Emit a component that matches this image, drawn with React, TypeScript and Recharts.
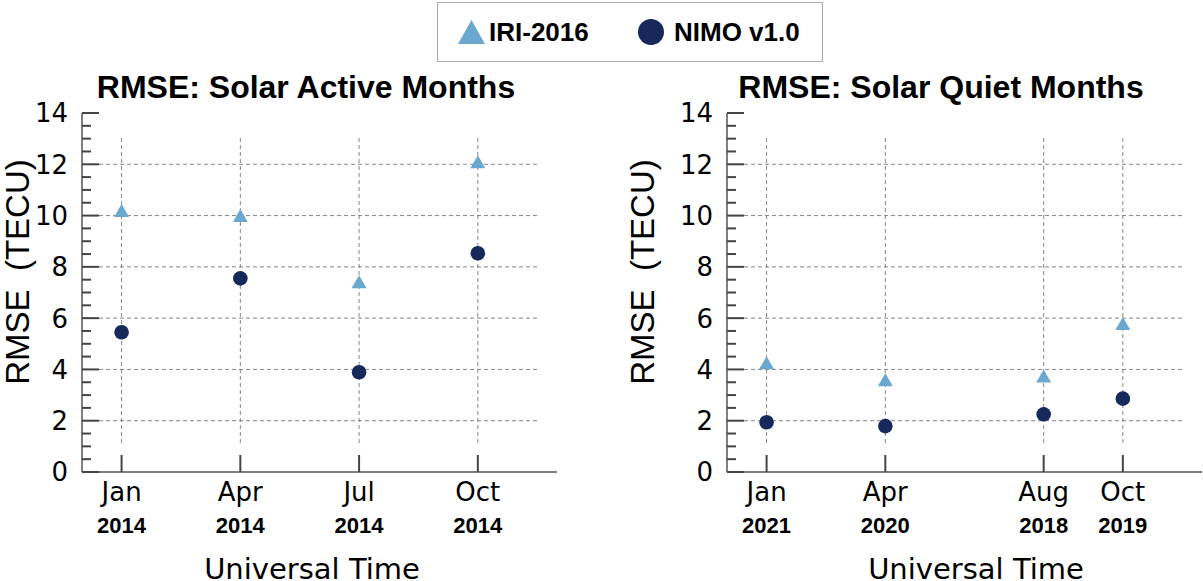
import React from "react";
import { ScatterChart, Scatter, XAxis, YAxis, ReferenceLine, Legend } from "recharts";

// Solar active months (all 2014)
const activeMonths = ["Jan", "Apr", "Jul", "Oct"];
const activeYears = ["2014", "2014", "2014", "2014"];
const activeMonthNum = [1, 4, 7, 10];
const activeIri = [10.2, 10.0, 7.42, 12.1];
const activeNimo = [5.45, 7.55, 3.89, 8.53];

// Solar quiet months
const quietMonths = ["Jan", "Apr", "Aug", "Oct"];
const quietYears = ["2021", "2020", "2018", "2019"];
const quietMonthNum = [1, 4, 8, 10];
const quietIri = [4.26, 3.6, 3.74, 5.79];
const quietNimo = [1.94, 1.79, 2.25, 2.86];

const yTicks = [
  0, 0.5, 1, 1.5, 2, 2.5, 3, 3.5, 4, 4.5, 5, 5.5, 6, 6.5, 7, 7.5, 8, 8.5, 9, 9.5,
  10, 10.5, 11, 11.5, 12, 12.5, 13, 13.5, 14,
];
const yGrid = [2, 4, 6, 8, 10, 12];

const IRI_COLOR = "#6aa8d0";
const NIMO_COLOR = "#16295a";
const FRAME = "#555";
const TICK = "#444";
const GRID = "#858585";
const SANS = '"DejaVu Sans", sans-serif';
const ARIAL = '"Liberation Sans", Arial, sans-serif';

const W = 600;
const H = 581;

function Triangle(props: any) {
  const { cx, cy } = props;
  if (cx == null || cy == null) return null;
  const w = 15;
  const h = 13;
  return (
    <path
      d={`M${cx},${cy - h / 2}L${cx + w / 2},${cy + h / 2}L${cx - w / 2},${cy + h / 2}Z`}
      fill={IRI_COLOR}
    />
  );
}

function Dot(props: any) {
  const { cx, cy } = props;
  if (cx == null || cy == null) return null;
  return <circle cx={cx} cy={cy} r={7.3} fill={NIMO_COLOR} />;
}

function LegendBox({ payload }: any) {
  const items = payload || [];
  return (
    <svg width={383} height={57} style={{ display: "block" }}>
      {items.map((entry: any, i: number) => {
        const bx = i === 0 ? 20 : 213;
        return (
          <g key={entry.value}>
            {i === 0 ? (
              <path d={`M${bx + 13.5},17L${bx + 27},41L${bx},41Z`} fill={IRI_COLOR} />
            ) : (
              <circle cx={bx} cy={29} r={13} fill={NIMO_COLOR} />
            )}
            <text
              x={i === 0 ? bx + 31 : bx + 23}
              y={38}
              fontFamily={ARIAL}
              fontWeight="bold"
              fontSize={26}
              fill="#000"
            >
              {entry.value}
            </text>
          </g>
        );
      })}
    </svg>
  );
}

interface PanelProps {
  left: number;
  plotLeft: number;
  plotRight: number;
  months: string[];
  monthNum: number[];
  years: string[];
  iri: number[];
  nimo: number[];
  yLabelX: number;
  xLabelCenter: number;
  legend?: boolean;
}

function Panel({
  left,
  plotLeft,
  plotRight,
  months,
  monthNum,
  years,
  iri,
  nimo,
  yLabelX,
  xLabelCenter,
  legend,
}: PanelProps) {
  const iriData = monthNum.map((m, i) => ({ x: m, y: iri[i] }));
  const nimoData = monthNum.map((m, i) => ({ x: m, y: nimo[i] }));

  const leftTick = ({ x, y, payload }: any) => {
    const major = payload.value % 2 === 0;
    return (
      <g>
        <line x1={x} x2={x + (major ? 17 : 9)} y1={y} y2={y} stroke={TICK} strokeWidth={2} />
        {major && (
          <text x={x - 14} y={y} dy="0.36em" textAnchor="end" fontFamily={SANS} fontSize={26} fill="#000">
            {payload.value}
          </text>
        )}
      </g>
    );
  };

  const rightTick = ({ x, y, payload }: any) => {
    const major = payload.value % 2 === 0;
    return <line x1={x} x2={x - (major ? 17 : 9)} y1={y} y2={y} stroke={TICK} strokeWidth={2} />;
  };

  const bottomTick = ({ x, y, payload }: any) => {
    const idx = monthNum.indexOf(payload.value);
    return (
      <g>
        <line x1={x} x2={x} y1={y} y2={y - 17} stroke={TICK} strokeWidth={2} />
        <text x={x} y={y + 29} textAnchor="middle" fontFamily={SANS} fontSize={26} fill="#000">
          {months[idx]}
        </text>
        <text x={x} y={y + 61} textAnchor="middle" fontFamily={ARIAL} fontWeight="bold" fontSize={22} fill="#000">
          {years[idx]}
        </text>
      </g>
    );
  };

  const topTick = ({ x, y }: any) => (
    <line x1={x} x2={x} y1={y} y2={y + 17} stroke={TICK} strokeWidth={2} />
  );

  const frame = { stroke: FRAME, strokeWidth: 1.5 };

  return (
    <div style={{ position: "absolute", left, top: 0, width: W, height: H }}>
      <ScatterChart width={W} height={H} margin={{ top: 113, right: W - plotRight, bottom: 0, left: 0 }}>
        <XAxis
          xAxisId="bottom"
          type="number"
          dataKey="x"
          domain={[0, 12]}
          ticks={monthNum}
          interval={0}
          height={H - 472}
          axisLine={frame}
          tickLine={false}
          tickSize={0}
          tickMargin={0}
          tick={bottomTick}
          label={{
            value: "Universal Time",
            content: () => (
              <text x={xLabelCenter} y={579} textAnchor="middle" fontFamily={SANS} fontSize={29} fill="#000">
                Universal Time
              </text>
            ),
          }}
        />
        <XAxis
          xAxisId="top"
          orientation="top"
          type="number"
          dataKey="x"
          domain={[0, 12]}
          ticks={monthNum}
          interval={0}
          height={0}
          axisLine={frame}
          tickLine={false}
          tickSize={0}
          tickMargin={0}
          tick={topTick}
        />
        <YAxis
          yAxisId="left"
          type="number"
          dataKey="y"
          domain={[0, 14]}
          ticks={yTicks}
          interval={0}
          width={plotLeft}
          axisLine={frame}
          tickLine={false}
          tickSize={0}
          tickMargin={0}
          tick={leftTick}
          label={{
            value: "RMSE  (TECU)",
            content: () => (
              <text
                x={yLabelX}
                y={272}
                transform={`rotate(-90 ${yLabelX} 272)`}
                textAnchor="middle"
                fontFamily={ARIAL}
                fontSize={33}
                fill="#000"
                style={{ whiteSpace: "pre" }}
              >
                RMSE  (TECU)
              </text>
            ),
          }}
        />
        <YAxis
          yAxisId="right"
          orientation="right"
          type="number"
          dataKey="y"
          domain={[0, 14]}
          ticks={yTicks}
          interval={0}
          width={0}
          axisLine={frame}
          tickLine={false}
          tickSize={0}
          tickMargin={0}
          tick={rightTick}
        />
        {yGrid.map((v) => (
          <ReferenceLine
            key={`h${v}`}
            xAxisId="bottom"
            yAxisId="left"
            segment={[
              { x: 0.43, y: v },
              { x: 11.57, y: v },
            ]}
            stroke={GRID}
            strokeDasharray="4 3"
            strokeWidth={1}
          />
        ))}
        {monthNum.map((m) => (
          <ReferenceLine
            key={`v${m}`}
            xAxisId="bottom"
            yAxisId="left"
            segment={[
              { x: m, y: 1.13 },
              { x: m, y: 13.07 },
            ]}
            stroke={GRID}
            strokeDasharray="4 3"
            strokeWidth={1}
          />
        ))}
        <Scatter
          name="IRI-2016"
          xAxisId="bottom"
          yAxisId="left"
          data={iriData}
          fill={IRI_COLOR}
          legendType="triangle"
          shape={Triangle}
          isAnimationActive={false}
        />
        <Scatter
          name="NIMO v1.0"
          xAxisId="top"
          yAxisId="right"
          data={nimoData}
          fill={NIMO_COLOR}
          legendType="circle"
          shape={Dot}
          isAnimationActive={false}
        />
        {legend && (
          <Legend
            layout="horizontal"
            verticalAlign="middle"
            align="center"
            content={<LegendBox />}
            wrapperStyle={{
              position: "absolute",
              left: 437,
              top: 2,
              width: 386,
              height: 60,
              border: "1.5px solid #aaa",
              boxSizing: "border-box",
              background: "#fff",
            }}
          />
        )}
      </ScatterChart>
    </div>
  );
}

const titleStyle: React.CSSProperties = {
  position: "absolute",
  top: 71,
  width: 600,
  textAlign: "center",
  fontFamily: ARIAL,
  fontWeight: "bold",
  fontSize: 32,
  lineHeight: "32px",
  color: "#000",
  whiteSpace: "nowrap",
};

export default function App() {
  return (
    <div
      style={{
        position: "absolute",
        left: 0,
        top: 0,
        width: 1203,
        height: 581,
        background: "#fff",
        overflow: "hidden",
      }}
    >
      <Panel
        left={603}
        plotLeft={124}
        plotRight={599}
        months={quietMonths}
        monthNum={quietMonthNum}
        years={quietYears}
        iri={quietIri}
        nimo={quietNimo}
        yLabelX={51}
        xLabelCenter={373}
      />
      <Panel
        left={0}
        plotLeft={82}
        plotRight={557}
        months={activeMonths}
        monthNum={activeMonthNum}
        years={activeYears}
        iri={activeIri}
        nimo={activeNimo}
        yLabelX={29}
        xLabelCenter={312}
        legend
      />
      <div style={{ ...titleStyle, left: 306 - 300 }}>RMSE: Solar Active Months</div>
      <div style={{ ...titleStyle, left: 941 - 300 }}>RMSE: Solar Quiet Months</div>
    </div>
  );
}
